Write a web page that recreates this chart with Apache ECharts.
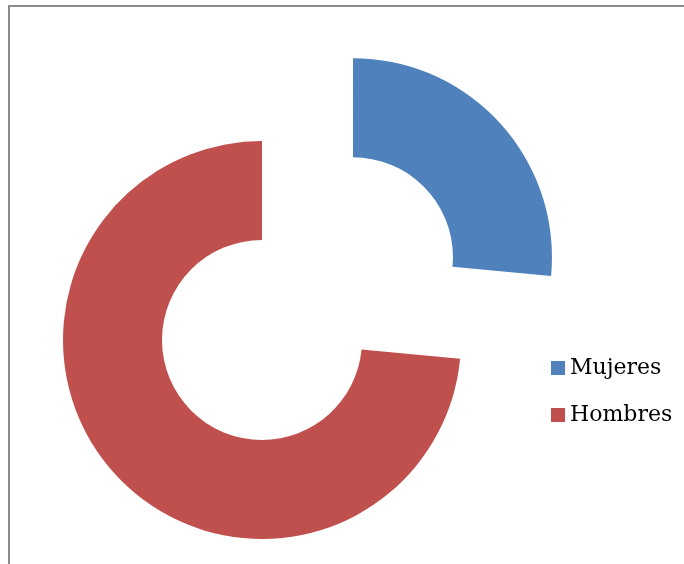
<!DOCTYPE html>
<html>
<head>
<meta charset="utf-8">
<script src="https://cdn.jsdelivr.net/npm/echarts@6/dist/echarts.min.js"></script>
<style>
  html, body { margin: 0; padding: 0; background: #fff; }
  #chart { width: 684px; height: 564px; }
</style>
</head>
<body>
<div id="chart"></div>
<script>
// datos
const categories = ['Mujeres', 'Hombres']
const values = [26.5, 73.5]
const colors = ['#4F81BD', '#C0504D']

const option = {
  animation: false,
  // marco del gráfico
  graphic: [
    {
      type: 'polyline',
      shape: { points: [[9, 570], [9, 6], [690, 6]] },
      style: { stroke: '#8a8a8a', lineWidth: 2, fill: null },
      silent: true,
    },
  ],
  // leyenda
  legend: {
    orient: 'vertical',
    left: 546,
    top: 352,
    itemWidth: 14,
    itemHeight: 14,
    itemGap: 25,
    icon: 'rect',
    selectedMode: false,
    textStyle: {
      fontFamily: 'DejaVu Serif',
      fontSize: 22,
      color: '#000',
    },
    data: categories,
  },
  series: [
    {
      type: 'pie',
      center: [262, 340],
      radius: [100, 199],
      startAngle: 90,
      clockwise: true,
      selectedMode: 'multiple',
      selectedOffset: 123,
      label: { show: false },
      labelLine: { show: false },
      emphasis: { disabled: true },
      itemStyle: { borderWidth: 0 },
      data: categories.map((name, i) => ({
        name: name,
        value: values[i],
        selected: i === 0,
        itemStyle: { color: colors[i] },
      })),
    },
  ],
}
echarts.init(document.getElementById('chart')).setOption(option)
</script>
</body>
</html>
